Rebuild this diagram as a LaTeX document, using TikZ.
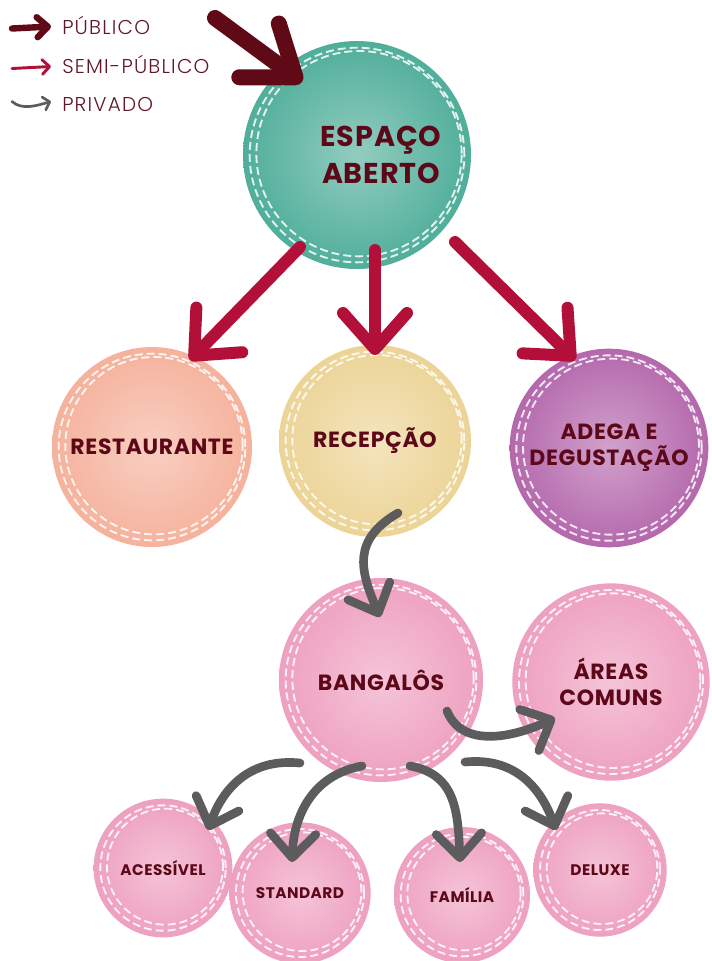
\documentclass[tikz,border=0pt]{standalone}
\usepackage{fontspec}
\setmainfont{Poppins}
\newfontfamily\legendfont{Poppins}[UprightFont={* Light}, LetterSpace=6]
\newfontfamily\labelfont{Poppins}[LetterSpace=3]
\usetikzlibrary{calc,arrows.meta}

\definecolor{tealwash}{RGB}{80,174,154}
\definecolor{peachwash}{RGB}{245,178,156}
\definecolor{sandwash}{RGB}{236,212,150}
\definecolor{plumwash}{RGB}{180,104,172}
\definecolor{pinkwash}{RGB}{238,160,192}
\definecolor{labelred}{RGB}{92,8,24}
\definecolor{legendred}{RGB}{96,24,40}
\definecolor{pubred}{RGB}{96,10,24}
\definecolor{semired}{RGB}{178,16,56}
\definecolor{privgray}{RGB}{92,92,92}

\tikzset{
  ring/.style={white, line width=1.4pt, dash pattern=on 6pt off 3pt, opacity=.85},
  blob/.style 2 args={circle, inner color=#1!62!white, outer color=#1, minimum size=#2, inner sep=0pt, align=center, text=labelred,
    path picture={
      \draw[ring] (path picture bounding box.center) circle[radius=#2/2-5pt];
      \draw[ring] ([shift={(1.5pt,1pt)}]path picture bounding box.center) circle[radius=#2/2-8.5pt];}},
  big label/.style={font=\labelfont\fontsize{21.5}{28}\selectfont\bfseries},
  mid label/.style={font=\labelfont\fontsize{16.5}{19.5}\selectfont\bfseries},
  small label/.style={font=\labelfont\fontsize{11.5}{14}\selectfont\bfseries},
  legend/.style={anchor=base west, inner sep=0pt, text=legendred, font=\legendfont\fontsize{15}{17}\selectfont},
  pub/.style={draw=pubred, line width=12pt, line cap=round, -{Straight Barb[length=34pt,width=50pt,round]}},
  semi/.style={draw=semired, line width=9pt, line cap=round, -{Straight Barb[length=27pt,width=48pt,round]}},
  priv/.style={draw=privgray, line width=6.5pt, line cap=round, -{Straight Barb[length=18pt,width=34pt,round]}},
}

\begin{document}
\begin{tikzpicture}[x=0.75pt,y=0.75pt,yscale=-1,xscale=1]
\useasboundingbox (0,0) rectangle (711,961);
\fill[white] (0,0) rectangle (711,961);

%Legend
\node[legend] (leg-pub) at (62,34.5) {PÚBLICO};
\node[legend] (leg-semi) at (62,73.5) {SEMI-PÚBLICO};
\node[legend] (leg-priv) at (62,111.5) {PRIVADO};
\draw[draw=pubred, line width=4.8pt, line cap=round, -{Straight Barb[length=8pt,width=15pt,round]}] ($(leg-pub.base west)+(-50,-6)$) -- ($(leg-pub.base west)+(-11,-8)$);
\draw[draw=semired, line width=2.2pt, line cap=round, -{Straight Barb[length=5.5pt,width=11pt,round]}] ($(leg-semi.base west)+(-50,-5)$) -- ($(leg-semi.base west)+(-11,-7)$);
\draw[draw=privgray, line width=2pt, line cap=round, -{Straight Barb[length=4.5pt,width=10pt,round]}] ($(leg-priv.base west)+(-50,-10)$) .. controls +(10,9) and +(-14,4) .. ($(leg-priv.base west)+(-11,-10)$);

%Top level
\node[blob={tealwash}{171pt}, label={[big label, text=labelred, align=center, xshift=18pt]center:ESPAÇO\\ABERTO}] (espaco) at (357,155) {};

%Second level
\node[blob={peachwash}{150pt}, mid label] (restaurante) at (152,447) {RESTAURANTE};
\node[blob={sandwash}{144pt}, mid label] (recepcao) at (375,441) {RECEPÇÃO};
\node[blob={plumwash}{149pt}, mid label] (adega) at (609,448) {ADEGA E\\DEGUSTAÇÃO};

%Third level
\node[blob={pinkwash}{153pt}, mid label] (bangalos) at (381,680) {BANGALÔS};
\node[blob={pinkwash}{148pt}, mid label] (areas) at (611,682) {ÁREAS\\COMUNS};

%Fourth level
\node[blob={pinkwash}{104pt}, small label] (acessivel) at (163,868) {ACESSÍVEL};
\node[blob={pinkwash}{106pt}, small label] (standard) at (300,893) {STANDARD};
\node[blob={pinkwash}{102pt}, small label] (familia) at (462,895) {FAMÍLIA};
\node[blob={pinkwash}{100pt}, small label] (deluxe) at (600,870) {DELUXE};

%Public
\coordinate (entrada) at (215,18);
\draw[pub] (entrada) -- ($(espaco)+(-55,-73)$);

%Semi-public
\draw[semi] ($(espaco)+(-57,92)$) -- ($(restaurante)+(38,-87)$);
\draw[semi] ($(espaco)+(18,95)$) -- ($(recepcao)+(0,-86)$);
\draw[semi] ($(espaco)+(98,87)$) -- ($(adega)+(-34,-88)$);

%Private
\draw[priv] ($(recepcao)+(23,72)$) .. controls +(-46,27) and +(-20,-47) .. ($(bangalos)+(-1,-63)$);
\draw[priv] ($(bangalos)+(66,31)$) .. controls +(15,37) and +(-43,20) .. ($(areas)+(-56,36)$);
\draw[priv] ($(bangalos)+(-81,83)$) .. controls +(-50,-5) and +(15,-42) .. ($(acessivel)+(45,-38)$);
\draw[priv] ($(bangalos)+(-19,86)$) .. controls +(-45,8) and +(2,-52) .. ($(standard)+(-8,-31)$);
\draw[priv] ($(bangalos)+(29,86)$) .. controls +(45,8) and +(-2,-52) .. ($(familia)+(-2,-33)$);
\draw[priv] ($(bangalos)+(84,82)$) .. controls +(50,-5) and +(-15,-42) .. ($(deluxe)+(-44,-40)$);

\end{tikzpicture}
\end{document}
